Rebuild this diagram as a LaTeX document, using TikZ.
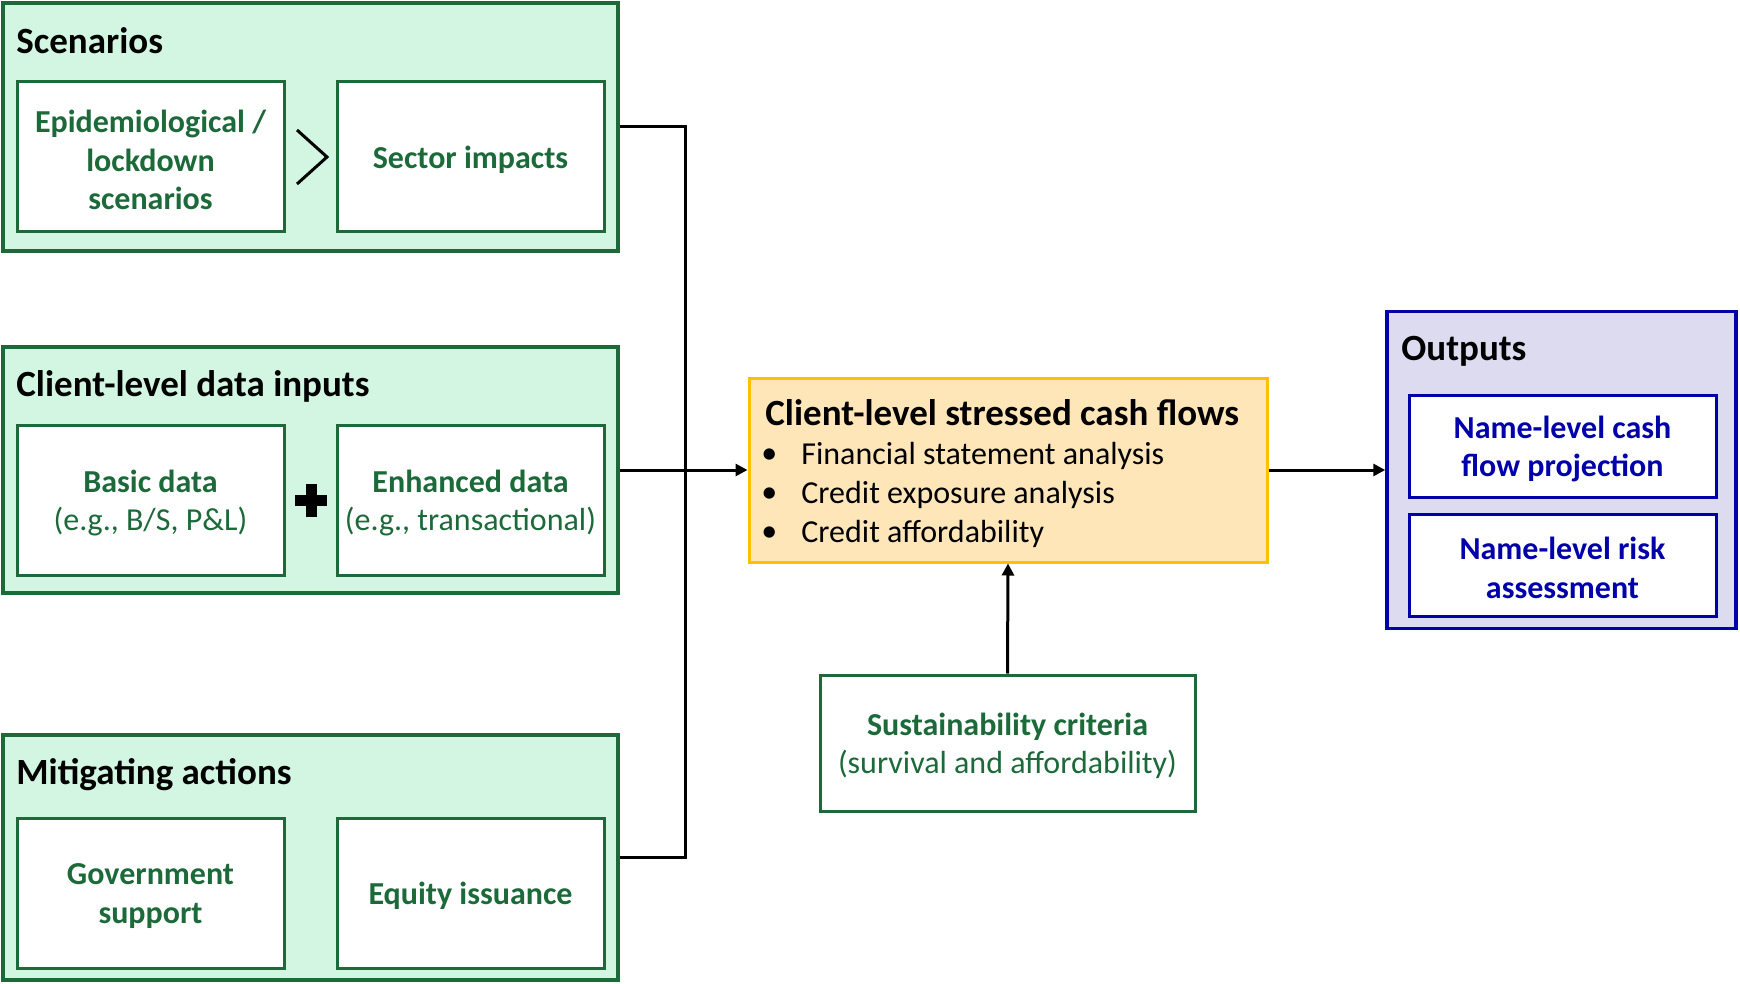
\documentclass[tikz,border=0pt]{standalone}
\usepackage{fontspec}
\setmainfont{Carlito}
\usetikzlibrary{arrows.meta}
\definecolor{dgreen}{RGB}{28,106,58}
\definecolor{lgreen}{RGB}{210,246,226}
\definecolor{lorange}{RGB}{255,230,185}
\definecolor{gold}{RGB}{255,192,0}
\definecolor{dblue}{RGB}{0,0,170}
\definecolor{lpurple}{RGB}{220,219,240}
\tikzset{
  outerbox/.style={draw=dgreen, fill=lgreen, line width=1.75pt, minimum width=307.5pt, inner sep=0pt},
  innerbox/.style={draw=dgreen, fill=white, line width=1.5pt, minimum width=133.5pt, minimum height=75pt, inner sep=0pt},
  greentext/.style={align=center, text=dgreen, inner sep=0pt, font=\fontsize{16}{19.25}\selectfont},
  grouptitle/.style={anchor=west, inner sep=0pt, font=\fontsize{18.5}{22}\selectfont\bfseries},
  conn/.style={line width=1.5pt, black},
  arr/.style={conn, -{Triangle[length=6pt,width=6pt]}},
  blueinner/.style={draw=dblue, fill=white, line width=1.5pt, minimum width=153.5pt, minimum height=51pt, inner sep=0pt},
  bluetext/.style={align=center, text=dblue, inner sep=0pt, font=\fontsize{16}{19.25}\selectfont\bfseries},
  bullettext/.style={anchor=west, inner sep=0pt, font=\fontsize{16}{19.25}\selectfont},
}
\begin{document}
\begin{tikzpicture}[x=0.5pt, y=-0.5pt]
\useasboundingbox (0,0) rectangle (1740,984);

% Scenarios group
\node[outerbox, minimum height=124pt] (scen) at (310.5,127) {};
\node[grouptitle] (scent) at (16,41) {Scenarios};
\node[innerbox] (epi) at (150.5,157) {};
\node[greentext] (epit) at ([yshift=-1.5pt]epi.center) {\bfseries Epidemiological /\\\bfseries lockdown\\\bfseries scenarios};
\node[innerbox] (sector) at (470.5,157) {};
\node[greentext] (sectort) at ([yshift=-1.5pt]sector.center) {\bfseries Sector impacts};
\draw[line width=1.5pt, black] (297,130) -- (327,157) -- (297,184);

% Client-level data inputs
\node[outerbox, minimum height=123pt] (client) at (310.5,470) {};
\node[grouptitle] (clientt) at (16,386.5) {Client-level data inputs};
\node[innerbox] (basic) at (150.5,500) {};
\node[greentext] (basict) at ([yshift=-1.5pt]basic.center) {\textbf{Basic data}\\(e.g., B/S, P\&L)};
\node[innerbox] (enh) at (470.5,500) {};
\node[greentext] (enht) at ([yshift=-1.5pt]enh.center) {\textbf{Enhanced data}\\(e.g., transactional)};
\fill[black] (305.5,484) rectangle (316.5,517);
\fill[black] (295,495) rectangle (327,506);

% Mitigating actions
\node[outerbox, minimum height=122.5pt] (mit) at (310.5,857.5) {};
\node[grouptitle] (mitt) at (16,775) {Mitigating actions};
\node[innerbox] (gov) at (150.5,893) {};
\node[greentext] (govt) at ([yshift=-1.5pt]gov.center) {\bfseries Government\\\bfseries support};
\node[innerbox] (eq) at (470.5,893) {};
\node[greentext] (eqt) at ([yshift=-1.5pt]eq.center) {\bfseries Equity issuance};

% Central box
\node[draw=gold, fill=lorange, line width=1.5pt, minimum width=259pt, minimum height=92pt, inner sep=0pt] (cash) at (1008,470) {};
\node[grouptitle] (casht) at (765,413) {Client-level stressed cash flows};
\node[bullettext] (b1) at (761,456) {•};
\node[bullettext] (i1) at (801,456) {Financial statement analysis};
\node[bullettext] (b2) at (761,495) {•};
\node[bullettext] (i2) at (801,495) {Credit exposure analysis};
\node[bullettext] (b3) at (761,534) {•};
\node[bullettext] (i3) at (801,534) {Credit affordability};

% Outputs
\node[draw=dblue, fill=lpurple, line width=1.75pt, minimum width=174.5pt, minimum height=158.5pt, inner sep=0pt] (out) at (1561.5,470) {};
\node[grouptitle] (outt) at (1401,351) {Outputs};
\node[blueinner] (o1) at (1562.5,446) {};
\node[bluetext] (o1t) at ([yshift=-1.5pt]o1.center) {Name-level cash\\flow projection};
\node[blueinner] (o2) at (1562.5,565) {};
\node[bluetext] (o2t) at ([yshift=-1.5pt]o2.center) {Name-level risk\\assessment};

% Sustainability
\node[draw=dgreen, fill=white, line width=1.5pt, minimum width=187.5pt, minimum height=68pt, inner sep=0pt] (sust) at (1007.5,743) {};
\node[greentext] (sustt) at ([yshift=-1.5pt]sust.center) {\textbf{Sustainability criteria}\\(survival and affordability)};

% Connectors
\coordinate (bus) at (685,470);
\draw[conn] (scen.east) -| (bus);
\draw[conn] (mit.east) -| (bus);
\draw[arr] (client.east) -- (cash.west);
\draw[arr] (cash.east) -- (out.west);
\draw[arr] (sust.north) -- (cash.south);
\end{tikzpicture}
\end{document}
